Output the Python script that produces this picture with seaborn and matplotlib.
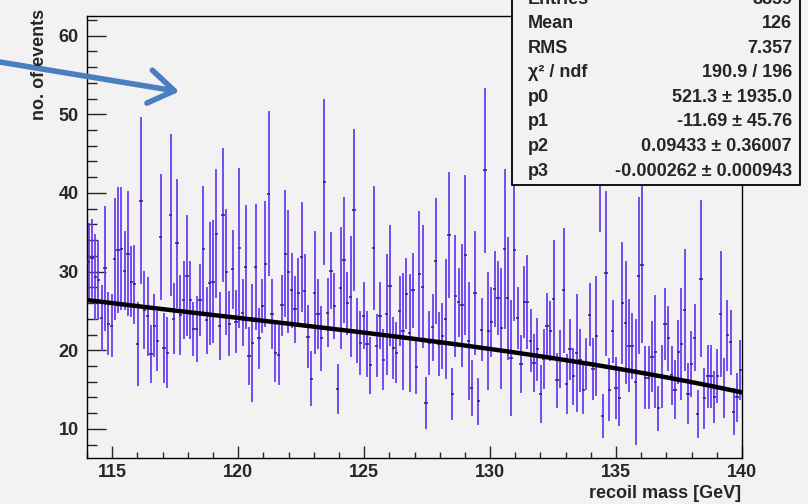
import numpy as np
import pandas as pd
import matplotlib.pyplot as plt
import seaborn as sns
from matplotlib.patches import Rectangle
from matplotlib.ticker import MultipleLocator

# histogram binning: 200 bins between 114 and 140 GeV
lo_edge, hi_edge, n_bins = 114.0, 140.0, 200

counts = [
    31.2, 31.7, 29.3, 28.9, 24.1, 30.4, 23.4, 23.1, 31.6, 32.7,
    32.9, 30.1, 32.3, 28.7, 28.4, 20.8, 39.0, 25.1, 24.3, 19.5,
    23.1, 21.2, 34.4, 20.3, 19.7, 37.2, 24.0, 33.6, 24.5, 26.4,
    29.5, 26.4, 22.7, 22.7, 26.4, 32.9, 23.8, 28.5, 28.7, 34.8,
    23.1, 37.2, 29.9, 23.4, 30.3, 23.6, 33.0, 24.8, 30.6, 19.3,
    20.9, 30.6, 21.5, 25.6, 31.0, 39.9, 24.6, 19.7, 19.4, 25.7,
    32.3, 30.0, 27.6, 25.2, 27.3, 31.9, 27.5, 21.7, 16.4, 27.3,
    24.6, 21.5, 41.4, 24.8, 30.1, 25.6, 15.1, 27.9, 31.5, 26.0,
    26.8, 37.8, 22.5, 20.9, 24.4, 20.8, 18.1, 33.0, 20.6, 24.4,
    18.8, 24.6, 28.2, 20.3, 19.7, 25.0, 22.4, 27.2, 22.2, 27.6,
    17.9, 29.7, 28.1, 13.3, 20.9, 22.9, 31.4, 20.8, 21.8, 24.0,
    34.7, 14.4, 26.9, 26.1, 25.7, 32.1, 21.2, 15.2, 27.3, 13.5,
    22.6, 42.9, 22.4, 23.6, 27.8, 26.6, 22.8, 32.9, 26.6, 19.0,
    32.7, 24.1, 18.3, 26.1, 26.1, 21.2, 18.4, 20.1, 14.4, 18.9,
    23.1, 22.4, 26.5, 16.2, 18.9, 27.6, 15.7, 20.1, 16.7, 19.6,
    18.7, 15.0, 18.3, 24.5, 17.6, 21.8, 45.0, 11.7, 29.8, 15.0,
    22.4, 15.2, 13.9, 26.0, 23.5, 20.6, 20.5, 16.0, 29.5, 30.9,
    16.5, 16.5, 19.2, 19.8, 12.6, 16.7, 23.3, 21.5, 16.8, 15.0,
    19.8, 20.8, 25.1, 14.5, 18.3, 21.6, 11.9, 29.1, 13.9, 16.7,
    16.7, 14.1, 16.7, 24.6, 15.2, 21.9, 21.0, 12.2, 14.0, 17.5,
]

errors = [
    5.0, 5.0, 5.5, 5.1, 4.2, 8.0, 4.0, 4.0, 7.8, 8.0,
    7.8, 5.0, 8.0, 4.5, 5.0, 5.3, 10.6, 5.0, 5.0, 3.7,
    4.0, 3.8, 8.0, 4.5, 4.5, 10.3, 4.5, 8.2, 5.1, 5.0,
    7.7, 5.0, 3.4, 4.2, 4.6, 8.0, 4.3, 7.8, 7.8, 8.2,
    4.3, 8.5, 8.0, 4.1, 5.0, 4.0, 10.2, 4.3, 7.9, 3.7,
    7.5, 8.0, 3.9, 3.4, 8.0, 10.5, 4.4, 3.8, 3.8, 3.9,
    8.1, 7.8, 4.8, 4.3, 4.4, 7.0, 4.7, 4.0, 3.5, 7.8,
    4.4, 4.1, 10.5, 4.4, 4.9, 4.2, 3.2, 7.8, 8.0, 4.0,
    7.7, 10.3, 4.1, 4.1, 4.3, 4.2, 3.6, 7.9, 4.0, 4.3,
    3.9, 7.7, 7.7, 3.9, 3.9, 4.4, 7.4, 4.5, 7.5, 4.8,
    3.4, 8.0, 7.8, 3.3, 4.1, 4.3, 8.0, 4.1, 4.2, 7.6,
    8.0, 3.3, 7.7, 4.4, 7.8, 10.2, 7.5, 3.5, 7.9, 3.0,
    4.0, 10.5, 7.5, 4.5, 4.8, 4.7, 7.7, 10.2, 7.8, 7.4,
    9.0, 3.9, 3.7, 4.6, 6.0, 4.0, 3.7, 4.0, 3.7, 3.8,
    4.2, 3.8, 7.5, 3.5, 3.7, 7.9, 3.8, 3.9, 3.6, 7.5,
    4.0, 3.1, 3.3, 4.0, 3.9, 7.6, 10.0, 2.8, 10.5, 4.0,
    4.0, 3.9, 3.5, 7.8, 7.8, 5.9, 4.2, 8.0, 10.0, 10.0,
    4.0, 4.0, 4.5, 7.2, 2.9, 4.0, 4.6, 4.1, 3.8, 3.8,
    4.1, 7.1, 7.8, 3.9, 4.2, 4.3, 3.1, 10.0, 3.9, 4.0,
    4.0, 3.3, 3.4, 8.0, 3.8, 4.5, 4.1, 3.0, 3.1, 3.8,
]

# cubic fit p0 + p1 x + p2 x^2 + p3 x^3 (values from the stats box)
fit_pars = [521.3, -11.69, 0.09433, -0.000262]

stat_names = ['Entries', 'Mean', 'RMS', 'χ² / ndf', 'p0', 'p1', 'p2', 'p3']
stat_values = ['8859', '126', '7.357', '190.9 / 196', '521.3 ± 1935.0',
               '-11.69 ± 45.76', '0.09433 ± 0.36007', '-0.000262 ± 0.000943']

bg = '#f2f2f2'
W, H = 808, 504

sns.set_theme(style='ticks')
plt.rcParams['font.family'] = ['Liberation Sans', 'DejaVu Sans']
plt.rcParams['font.weight'] = 'bold'

bin_w = (hi_edge - lo_edge) / n_bins
centres = lo_edge + bin_w * (np.arange(n_bins) + 0.5)
df = pd.DataFrame({'mass': centres, 'events': counts, 'err': errors})

xf = np.linspace(lo_edge, hi_edge, 120)
df_fit = pd.DataFrame({'mass': xf, 'fit': np.polyval(fit_pars[::-1], xf)})

fig = plt.figure(figsize=(W / 100, H / 100), dpi=100, facecolor=bg)
ax = fig.add_axes([87 / W, 46 / H, 655 / W, 442 / H], facecolor=bg)

# error bars
ax.vlines(df['mass'], df['events'] - df['err'], df['events'] + df['err'],
          color='#6a3ff2', lw=1.3, zorder=2)
ax.hlines(df['events'], df['mass'] - bin_w / 2, df['mass'] + bin_w / 2,
          color='#2c1f7a', lw=1.1, zorder=3)

# fit curve
sns.lineplot(data=df_fit, x='mass', y='fit', color='black', lw=3.2, ax=ax, zorder=4)

ax.set_xlim(lo_edge, hi_edge)
ax.set_ylim(6.3, 62.5)
ax.xaxis.set_major_locator(MultipleLocator(5))
ax.xaxis.set_minor_locator(MultipleLocator(1))
ax.yaxis.set_major_locator(MultipleLocator(10))
ax.yaxis.set_minor_locator(MultipleLocator(2))
ax.tick_params(axis='x', which='major', direction='in', length=9, width=1, pad=4, labelsize=13)
ax.tick_params(axis='x', which='minor', direction='in', length=4.5, width=1)
ax.tick_params(axis='y', which='major', direction='in', length=14, width=1, pad=6, labelsize=13)
ax.tick_params(axis='y', which='minor', direction='in', length=7, width=1)
for lab in ax.get_xticklabels() + ax.get_yticklabels():
    lab.set_fontweight('bold')
ax.set_xlabel('')
ax.set_ylabel('')
for sp in ax.spines.values():
    sp.set_visible(True)
    sp.set_color('black')
    sp.set_linewidth(1)

fig.text(741 / W, 1 - 493 / H, 'recoil mass [GeV]', ha='right', va='center',
         fontsize=13, fontweight='bold')
fig.text(40 / W, 1 - 64 / H, 'no. of events', rotation=90, ha='center', va='center',
         fontsize=13, fontweight='bold')

# annotation arrow coming from outside the figure
ax.annotate('', xy=(182, H - 92), xytext=(-10, H - 60.4),
            xycoords='figure pixels', textcoords='figure pixels',
            annotation_clip=False,
            arrowprops=dict(arrowstyle='->,head_length=0.9,head_width=0.6',
                            lw=4, color='#4a7fbf', mutation_scale=20))

# stats box
box = Rectangle((512 / W, 1 - 185 / H), (800 - 512) / W, 200 / H,
                transform=fig.transFigure, facecolor=bg, edgecolor='black',
                lw=1.3, zorder=10)
fig.add_artist(box)
for i, (name, val) in enumerate(zip(stat_names, stat_values)):
    y = 1 - (-1 + 24.6 * i) / H
    fig.text(528 / W, y, name, ha='left', va='center', fontsize=13,
             fontweight='bold', zorder=11)
    fig.text(792 / W, y, val, ha='right', va='center', fontsize=13,
             fontweight='bold', zorder=11)

fig.savefig('out.png', dpi=100, facecolor=bg)
